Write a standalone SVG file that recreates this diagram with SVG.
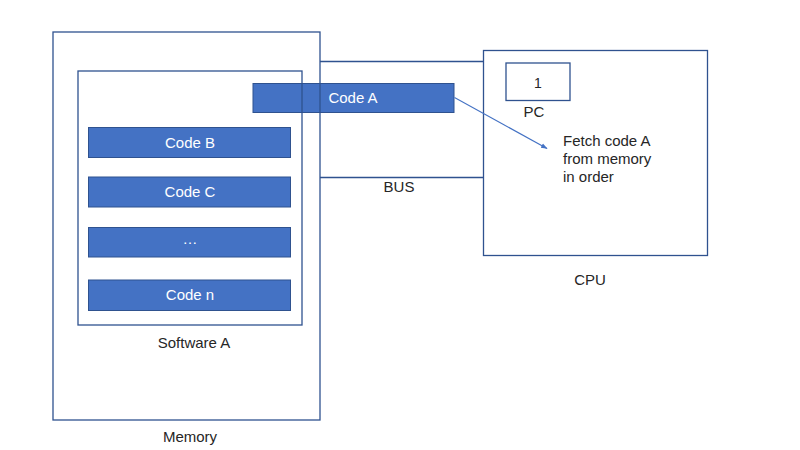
<svg xmlns="http://www.w3.org/2000/svg" width="800" height="450" viewBox="0 0 800 450">
<style>
.frame{fill:none;stroke:#2F528F;stroke-width:1.3}
.box{fill:#4472C4;stroke:#2F528F;stroke-width:1}
.wt{fill:#ffffff;font-family:"Liberation Sans",Arial,sans-serif;font-size:15px;text-anchor:middle}
.lb{fill:#262626;font-family:"Liberation Sans",Arial,sans-serif;font-size:15px;text-anchor:middle}
.lt{fill:#262626;font-family:"Liberation Sans",Arial,sans-serif;font-size:15px}
</style>
<defs>
<marker id="ah" viewBox="0 0 10 10" refX="9" refY="5" markerWidth="6" markerHeight="6" orient="auto">
<path d="M0,1.5 L10,5 L0,8.5 Z" fill="#4472C4"/>
</marker>
</defs>
<rect width="800" height="450" fill="#ffffff"/>
<g id="codeA">
<rect class="box" x="253" y="83.5" width="201" height="29"/>
<text class="wt" x="353" y="103">Code A</text>
</g>
<g id="memory">
<rect class="frame" x="53" y="32" width="267" height="388"/>
<text class="lb" x="190" y="442">Memory</text>
</g>
<g id="softwareA">
<rect class="frame" x="78" y="71" width="224" height="254"/>
<text class="lb" x="194" y="348">Software A</text>
</g>
<g id="codeB">
<rect class="box" x="88.5" y="127.5" width="202" height="30"/>
<text class="wt" x="190" y="147.5">Code B</text>
</g>
<g id="codeC">
<rect class="box" x="88.5" y="177" width="202" height="30"/>
<text class="wt" x="190" y="197">Code C</text>
</g>
<g id="codeDots">
<rect class="box" x="88.5" y="227.5" width="202" height="29.5"/>
<text class="wt" x="190" y="244">…</text>
</g>
<g id="codeN">
<rect class="box" x="88.5" y="280" width="202" height="30.5"/>
<text class="wt" x="190" y="300">Code n</text>
</g>
<g id="cpu">
<rect class="frame" x="483.5" y="50.5" width="224" height="205"/>
<text class="lb" x="590" y="284.5">CPU</text>
<text class="lt" x="563" y="146">Fetch code A</text>
<text class="lt" x="563" y="164">from memory</text>
<text class="lt" x="563" y="181.5">in order</text>
</g>
<g id="pc">
<rect class="frame" x="506" y="63" width="64" height="37.5"/>
<text class="lb" x="538" y="87.5" style="font-size:14px">1</text>
<text class="lb" x="534" y="117">PC</text>
</g>
<g id="connectors">
<line class="frame" x1="320" y1="61.5" x2="483.5" y2="61.5"/>
<line class="frame" x1="320" y1="177.5" x2="483.5" y2="177.5"/>
<line x1="454.5" y1="97.5" x2="547" y2="148.5" stroke="#4472C4" stroke-width="1.1" marker-end="url(#ah)"/>
<text class="lb" x="399" y="192">BUS</text>
</g>
</svg>
